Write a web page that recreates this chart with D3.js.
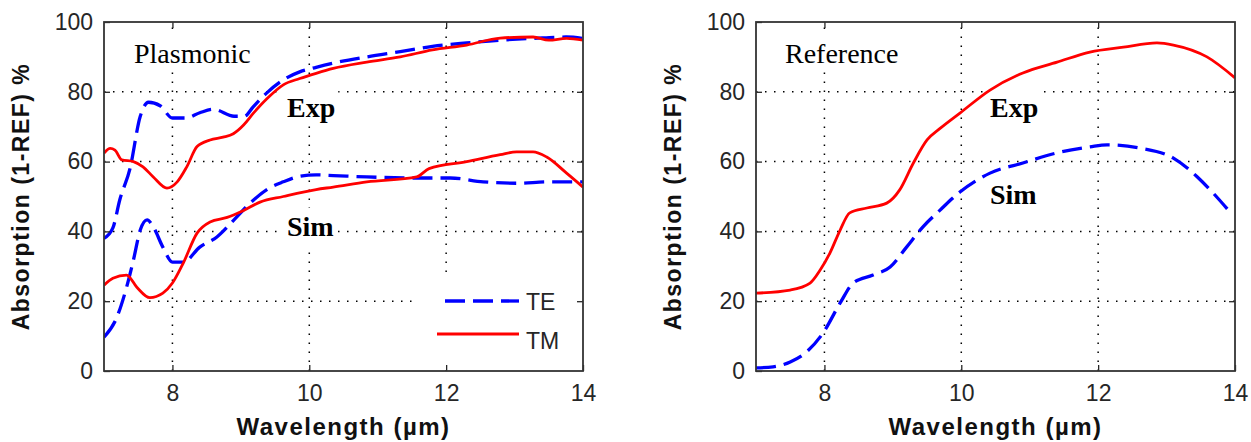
<!DOCTYPE html>
<html>
<head>
<meta charset="utf-8">
<script src="https://d3js.org/d3.v7.min.js"></script>
<style>
  body { margin: 0; background: #fff; }
  svg { display: block; }
</style>
</head>
<body>
<div id="chart"></div>
<script>
// Data: [wavelength (µm), absorption (%)]
const plasmonicTeExp = [[7.0,38],[7.13,41],[7.23,49],[7.38,58],[7.53,73],[7.65,77],[7.82,76],[8.0,72.5],[8.2,72.5],[8.4,74],[8.6,75],[8.9,73],[9.05,73],[9.18,75.7],[9.38,79.7],[9.62,83.4],[9.86,85.7],[10.1,87],[10.35,88.2],[10.84,90],[11.33,91.5],[11.8,93],[12.3,94],[12.79,94.8],[13.27,95.3],[13.76,95.7],[14,95.3]];
const plasmonicTmExp = [[7.0,62.4],[7.09,63.8],[7.16,63.3],[7.26,60.5],[7.43,60],[7.57,58.5],[7.72,55.6],[7.92,52.4],[8.07,54.2],[8.21,58.5],[8.36,64.3],[8.55,66.2],[8.74,67],[8.89,68],[9.04,70.5],[9.18,73.8],[9.38,78],[9.62,82],[9.86,83.8],[10.1,85.3],[10.35,86.7],[10.84,88.5],[11.33,90],[11.8,92],[12.3,93.4],[12.79,95.4],[13.27,95.7],[13.5,94.8],[13.76,95.3],[14,94.8]];
const plasmonicTeSim = [[7.0,9.7],[7.19,15.5],[7.33,24],[7.43,31.8],[7.53,40.4],[7.63,43.3],[7.72,41.3],[7.86,35.5],[8.0,31.2],[8.16,31.2],[8.4,35.5],[8.65,38.4],[8.9,43.3],[9.13,48],[9.38,52],[9.62,54.2],[9.86,55.8],[10.1,56.2],[10.35,56],[10.84,55.6],[11.57,55.3],[12.06,55.3],[12.54,54.2],[13.03,53.8],[13.5,54.2],[14,54.2]];
const plasmonicTmSim = [[7.0,24.6],[7.13,26.6],[7.33,27.5],[7.48,24],[7.67,21],[7.86,22.3],[8.0,25.2],[8.16,31],[8.36,39.5],[8.55,42.7],[8.8,44],[9.04,46],[9.28,48.4],[9.62,50],[10.1,52],[10.35,52.7],[10.84,54.2],[11.57,55.6],[11.75,58],[12.3,60],[12.79,62],[13.03,62.8],[13.27,62.8],[13.47,61.3],[13.76,56.7],[14,52.7]];

const referenceExp = [[7.0,22.3],[7.5,23.2],[7.79,25.2],[7.94,29],[8.08,33.8],[8.23,40.4],[8.37,45.3],[8.62,46.7],[8.91,48.1],[9.1,51.9],[9.3,59.6],[9.5,66.2],[9.69,69.5],[9.98,73.9],[10.42,80.5],[10.9,85.4],[11.4,88.5],[11.88,91.4],[12.37,92.8],[12.86,94],[13.1,93.4],[13.59,90],[14,84]];
const referenceSim = [[7.0,0.9],[7.25,1.2],[7.5,2.6],[7.74,5.5],[7.98,10.9],[8.23,19.5],[8.42,25.2],[8.71,27.5],[8.96,29.8],[9.2,35.5],[9.44,41.3],[9.69,46.1],[9.98,51.3],[10.42,56.7],[10.9,59.6],[11.4,62.5],[11.88,64.2],[12.13,64.8],[12.61,63.9],[13.1,61],[13.45,55.6],[13.68,51],[13.95,45]];

const xTicks = [8, 10, 12, 14];
const yTicks = [0, 20, 40, 60, 80, 100];
const xGrid = [8, 10, 12];
const yGrid = [20, 40, 60, 80];
const legendLabels = ["TE", "TM"];

const svg = d3.select("#chart")
    .append("svg")
    .attr("width", 1251)
    .attr("height", 442);

const plotTop = 22, plotBottom = 371;
const sans = "'Liberation Sans', Arial, sans-serif";
const serif = "'Liberation Serif', 'Times New Roman', serif";
const axisColor = "#262626";

const yScale = d3.scaleLinear().domain([0, 100]).range([plotBottom, plotTop]);

// a text with white background box, like MATLAB text objects
function boxedText(g, x, y, str, bold) {
    const t = g.append("text")
        .attr("x", x)
        .attr("y", y)
        .style("font-family", serif)
        .style("font-size", "28px")
        .style("font-weight", bold ? "bold" : "normal")
        .style("fill", "#000")
        .text(str);
    const b = t.node().getBBox();
    g.insert("rect", "text")
        .attr("x", b.x - 3)
        .attr("y", b.y - 3)
        .attr("width", b.width + 6)
        .attr("height", b.height + 6)
        .style("fill", "#fff");
}

function drawPanel(p) {
    const xScale = d3.scaleLinear().domain([7, 14]).range([p.left, p.right]);
    const g = svg.append("g");

    const clipId = "clip-" + p.name;
    svg.append("clipPath").attr("id", clipId)
        .append("rect")
        .attr("x", p.left).attr("y", plotTop)
        .attr("width", p.right - p.left).attr("height", plotBottom - plotTop);

    // grille pointillée
    g.selectAll(".gx").data(xGrid).join("line")
        .attr("x1", d => xScale(d)).attr("x2", d => xScale(d))
        .attr("y1", plotBottom).attr("y2", plotTop)
        .style("stroke", "#000").style("stroke-width", 1.5)
        .style("stroke-dasharray", "1.5,7.5");
    g.selectAll(".gy").data(yGrid).join("line")
        .attr("x1", p.left).attr("x2", p.right)
        .attr("y1", d => yScale(d)).attr("y2", d => yScale(d))
        .style("stroke", "#000").style("stroke-width", 1.5)
        .style("stroke-dasharray", "1.5,7.5");

    // annotations
    const labels = g.append("g");
    boxedText(labels, p.titleX, 63, p.title, false);
    boxedText(labels, p.expX, 117, "Exp", true);
    boxedText(labels, p.simX, p.simY, "Sim", true);

    // courbes
    const line = d3.line()
        .x(d => xScale(d[0]))
        .y(d => yScale(d[1]))
        .curve(d3.curveMonotoneX);

    const curves = g.append("g").attr("clip-path", `url(#${clipId})`);
    p.series.forEach(s => {
        curves.append("path")
            .datum(s.data)
            .attr("d", line)
            .style("fill", "none")
            .style("stroke", s.color)
            .style("stroke-width", s.dashed ? 3.3 : 2.8)
            .style("stroke-dasharray", s.dashed ? "20,8" : null);
    });

    // légende
    if (p.legend) {
        const lg = g.append("g");
        lg.append("rect")
            .attr("x", 418).attr("y", 273)
            .attr("width", p.right - 419).attr("height", plotBottom - 274)
            .style("fill", "#fff");
        legendLabels.forEach((name, i) => {
            const y = 301 + i * 33;
            lg.append("line")
                .attr("x1", 437).attr("x2", 519)
                .attr("y1", y).attr("y2", y)
                .style("stroke", i === 0 ? "#0000ff" : "#ff0000")
                .style("stroke-width", i === 0 ? 3.3 : 2.8)
                .style("stroke-dasharray", i === 0 ? "20,8" : null)
                .style("stroke-dashoffset", i === 0 ? 20 : null);
            lg.append("text")
                .attr("x", 526)
                .attr("y", y + (i === 0 ? 1 : 7))
                .attr("dy", "0.35em")
                .style("font-family", sans)
                .style("font-size", "23px")
                .style("fill", axisColor)
                .text(name);
        });
    }

    // axes
    const styleAxis = sel => {
        sel.select(".domain").remove();
        sel.attr("color", axisColor)
            .attr("font-family", sans)
            .attr("font-size", 23);
        sel.selectAll(".tick line").attr("stroke-width", 1.3);
    };

    g.append("g")
        .attr("transform", `translate(0,${plotBottom})`)
        .call(d3.axisBottom(xScale).tickValues(xTicks).tickFormat(d3.format("d"))
            .tickSizeInner(-6).tickSizeOuter(0).tickPadding(14))
        .call(styleAxis);
    g.append("g")
        .attr("transform", `translate(0,${plotTop})`)
        .call(d3.axisTop(xScale).tickValues(xGrid).tickSizeInner(-6).tickSizeOuter(0).tickFormat(""))
        .call(styleAxis);
    g.append("g")
        .attr("transform", `translate(${p.left},0)`)
        .call(d3.axisLeft(yScale).tickValues(yTicks).tickFormat(d3.format("d"))
            .tickSizeInner(-6).tickSizeOuter(0).tickPadding(11))
        .call(styleAxis);
    g.append("g")
        .attr("transform", `translate(${p.right},0)`)
        .call(d3.axisRight(yScale).tickValues(yGrid).tickSizeInner(-6).tickSizeOuter(0).tickFormat(""))
        .call(styleAxis);

    g.append("rect")
        .attr("x", p.left).attr("y", plotTop)
        .attr("width", p.right - p.left).attr("height", plotBottom - plotTop)
        .style("fill", "none")
        .style("stroke", "#333")
        .style("stroke-width", 1.8);

    // titres des axes
    g.append("text")
        .attr("x", (p.left + p.right) / 2)
        .attr("y", 435)
        .attr("text-anchor", "middle")
        .style("font-family", sans)
        .style("font-size", "24px")
        .style("font-weight", "bold")
        .style("letter-spacing", "1.5px")
        .style("fill", "#111")
        .text("Wavelength (µm)");

    g.append("text")
        .attr("transform", `translate(${p.left - 75},${(plotTop + plotBottom) / 2}) rotate(-90)`)
        .attr("text-anchor", "middle")
        .style("font-family", sans)
        .style("font-size", "23px")
        .style("font-weight", "bold")
        .style("letter-spacing", "1.5px")
        .style("fill", "#111")
        .text("Absorption (1-REF) %");
}

drawPanel({
    name: "plasmonic", left: 104, right: 583,
    title: "Plasmonic", titleX: 134,
    expX: 287, simX: 287, simY: 236,
    legend: true,
    series: [
        { data: plasmonicTeExp, color: "#0000ff", dashed: true },
        { data: plasmonicTmExp, color: "#ff0000", dashed: false },
        { data: plasmonicTeSim, color: "#0000ff", dashed: true },
        { data: plasmonicTmSim, color: "#ff0000", dashed: false }
    ]
});

drawPanel({
    name: "reference", left: 756, right: 1235,
    title: "Reference", titleX: 785,
    expX: 990, simX: 990, simY: 204,
    legend: false,
    series: [
        { data: referenceExp, color: "#ff0000", dashed: false },
        { data: referenceSim, color: "#0000ff", dashed: true }
    ]
});
</script>
</body>
</html>
